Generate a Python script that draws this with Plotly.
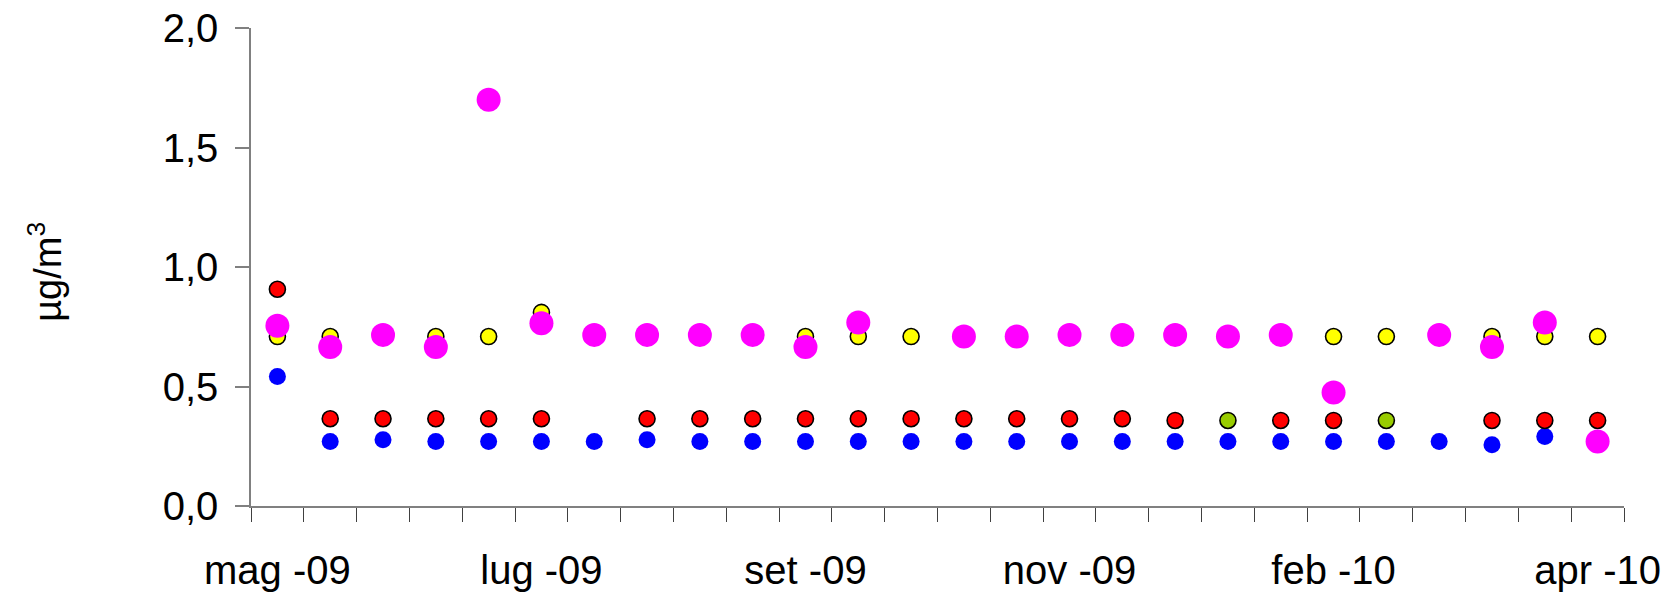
import plotly.graph_objects as go

# sample index (26 sampling campaigns), labels shown every 5th sample
n_samples = 26
tick_positions = [0, 5, 10, 15, 20, 25]
tick_labels = ["mag -09", "lug -09", "set -09", "nov -09", "feb -10", "apr -10"]

yellow = [0.709, 0.709, None, 0.709, 0.709, 0.81, None, None, None, None,
          0.709, 0.709, 0.709, None, None, None, None, None, None, None,
          0.709, 0.709, None, 0.709, 0.709, 0.709]
red = [0.907, 0.365, 0.365, 0.365, 0.365, 0.365, None, 0.365, 0.365, 0.365,
       0.365, 0.365, 0.365, 0.365, 0.365, 0.365, 0.365, 0.358, None, 0.358,
       0.358, None, None, 0.358, 0.358, 0.358]
green = [None] * 18 + [0.358, None, None, 0.358, None, None, None, None]
blue = [0.542, 0.27, 0.277, 0.27, 0.27, 0.27, 0.27, 0.277, 0.27, 0.27,
        0.27, 0.27, 0.27, 0.27, 0.27, 0.27, 0.27, 0.27, 0.27, 0.27,
        0.27, 0.27, 0.27, 0.256, 0.291, None]
magenta = [0.754, 0.665, 0.716, 0.665, 1.70, 0.765, 0.716, 0.716, 0.716, 0.716,
           0.665, 0.768, None, 0.709, 0.709, 0.716, 0.716, 0.716, 0.709, 0.716,
           0.475, None, 0.716, 0.665, 0.768, 0.27]

x = list(range(n_samples))
FONT = "Liberation Sans, Arial, sans-serif"

fig = go.Figure()
fig.add_trace(go.Scatter(x=x, y=blue, mode="markers",
                         marker=dict(color="#0000FF", size=17, line=dict(width=0))))
fig.add_trace(go.Scatter(x=x, y=red, mode="markers",
                         marker=dict(color="#FF0000", size=16, line=dict(color="black", width=1.6))))
fig.add_trace(go.Scatter(x=x, y=green, mode="markers",
                         marker=dict(color="#99CC00", size=16, line=dict(color="black", width=1.6))))
fig.add_trace(go.Scatter(x=x, y=yellow, mode="markers",
                         marker=dict(color="#FFFF00", size=16, line=dict(color="black", width=1.6))))
fig.add_trace(go.Scatter(x=x, y=magenta, mode="markers",
                         marker=dict(color="#FF00FF", size=24, line=dict(width=0))))

fig.update_layout(
    width=1670, height=594,
    margin=dict(l=251, r=46, t=28, b=88, autoexpand=False),
    paper_bgcolor="white", plot_bgcolor="white",
    showlegend=False,
    separators=", ",
    font=dict(family=FONT, size=40, color="black"),
)
fig.update_xaxes(
    automargin=False,
    range=[-0.5, n_samples - 0.5],
    tickmode="array", tickvals=tick_positions, ticktext=tick_labels,
    ticks="", showgrid=False, zeroline=False,
    showline=True, linecolor="#808080", linewidth=1.5,
    tickfont=dict(family=FONT, size=40),
    ticklabelstandoff=28,
    minor=dict(ticks="outside", ticklen=14, tickcolor="#404040", tickwidth=1,
               tickmode="linear", tick0=-0.5, dtick=1, showgrid=False),
)
fig.update_yaxes(
    automargin=False,
    range=[0, 2], tickmode="array", tickvals=[0, 0.5, 1.0, 1.5, 2.0],
    tickformat=".1f",
    ticks="outside", ticklen=14, tickcolor="#808080", tickwidth=1.5,
    showgrid=False, zeroline=False,
    showline=True, linecolor="#808080", linewidth=1.5,
    tickfont=dict(family=FONT, size=40),
    ticklabelstandoff=9,
)
fig.add_annotation(
    text="µg/m<sup>3</sup>", textangle=-90,
    xref="paper", yref="paper", x=-0.150, y=0.49,
    xanchor="center", yanchor="middle", showarrow=False,
    font=dict(family=FONT, size=38, color="black"),
)

fig.write_html("out.html",
               config={"displayModeBar": False},
               post_script="document.body.style.margin='0';document.body.style.overflow='hidden';")
